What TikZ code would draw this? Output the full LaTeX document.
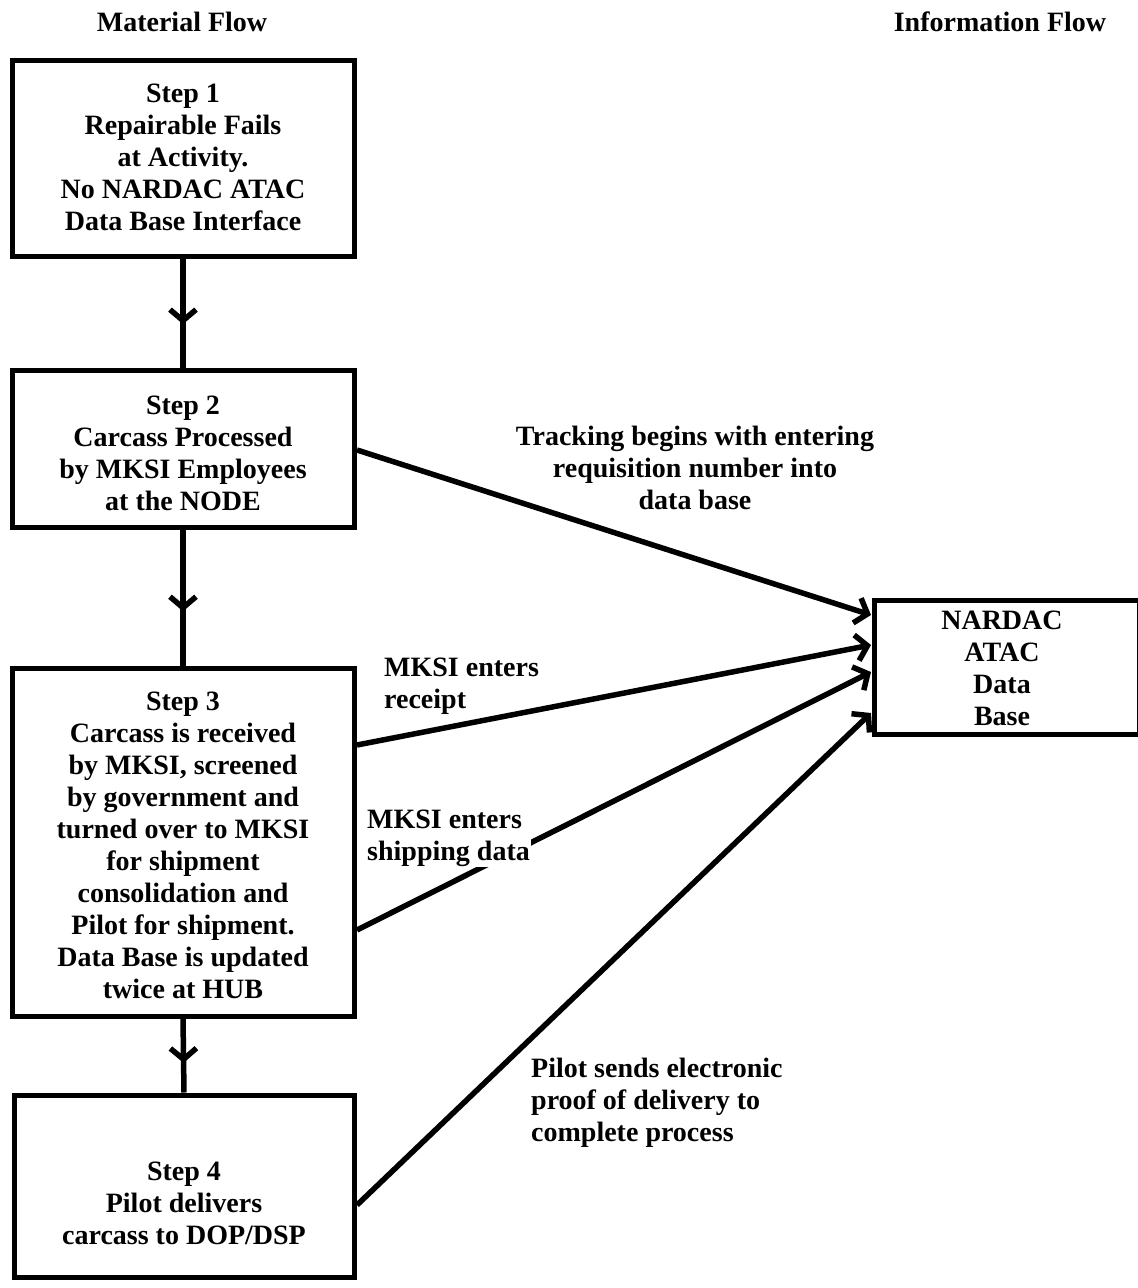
\documentclass[tikz,border=0pt]{standalone}
\usepackage{fontspec}
\setmainfont{Liberation Serif}
\usetikzlibrary{arrows.meta,decorations.markings}
\tikzset{
  bigfont/.style={font=\fontsize{28}{32}\selectfont\bfseries},
  flowbox/.style={draw, line width=5pt, rectangle, inner sep=0pt},
  boxtext/.style={align=center, inner sep=0pt, bigfont},
  lbl/.style={align=left, inner sep=1pt, bigfont},
  conn/.style={line width=5.5pt, -{Straight Barb[length=11pt,width=26pt,line width=5.5pt]}},
  midarrow/.style={line width=5.5pt, postaction={decorate},
    decoration={markings, mark=at position 0.6 with {\arrow{Straight Barb[length=11pt,width=26pt,line width=5.5pt]}}}}
}
\begin{document}
\begin{tikzpicture}[x=1pt,y=-1pt]
\useasboundingbox (0,0) rectangle (1138,1288);
\fill[white] (0,0) rectangle (1138,1288);

\node[bigfont] (hmat) at (182,22) {Material Flow};
\node[bigfont] (hinf) at (1000,22) {Information Flow};

\node[flowbox, minimum width=342pt, minimum height=196pt] (s1) at (183,158) {};
\node[boxtext] (s1t) at (183,157)
  {Step 1\\Repairable Fails\\at Activity.\\No NARDAC ATAC\\Data Base Interface};
\node[flowbox, minimum width=342pt, minimum height=157pt] (s2) at (183,449) {};
\node[boxtext] (s2t) at (183,453)
  {Step 2\\Carcass Processed\\by MKSI Employees\\at the NODE};
\node[flowbox, minimum width=342pt, minimum height=348pt] (s3) at (183,842) {};
\node[boxtext] (s3t) at (183,845)
  {Step 3\\Carcass is received\\by MKSI, screened\\by government and\\turned over to MKSI\\for shipment\\consolidation and\\Pilot for shipment.\\Data Base is updated\\twice at HUB};
\node[flowbox, minimum width=340pt, minimum height=182pt] (s4) at (184,1186) {};
\node[boxtext] (s4t) at (184,1203)
  {Step 4\\Pilot delivers\\carcass to DOP/DSP};
\node[flowbox, minimum width=265pt, minimum height=134pt] (db) at (1007,667) {};
\node[boxtext] (dbt) at (1002,668) {NARDAC\\ATAC\\Data\\Base};

\draw[midarrow] (s1.south) -- (s2.north);
\draw[midarrow] (s2.south) -- (s3.north);
\draw[midarrow] (s3.south) -- (s4.north);

\coordinate (a1) at (357,450);
\coordinate (a2) at (357,745);
\coordinate (a3) at (357,930);
\coordinate (a4) at (357,1205);
\coordinate (b1) at (871,615);
\coordinate (b2) at (871,645);
\coordinate (b3) at (871,672);
\coordinate (b4) at (871,713);

\draw[conn] (a1) -- (b1);
\draw[conn] (a2) -- (b2);
\draw[conn] (a3) -- (b3);
\draw[conn] (a4) -- (b4);

\node[bigfont, align=center] (l1) at (695,468)
  {Tracking begins with entering\\requisition number into\\data base};
\node[lbl, anchor=west] (l2) at (383,686) {MKSI enters\\receipt};
\node[lbl, anchor=west, fill=white] (l3) at (366,838) {MKSI enters\\shipping data};
\node[lbl, anchor=west] (l4) at (530,1103)
  {Pilot sends electronic\\proof of delivery to\\complete process};
\end{tikzpicture}
\end{document}
